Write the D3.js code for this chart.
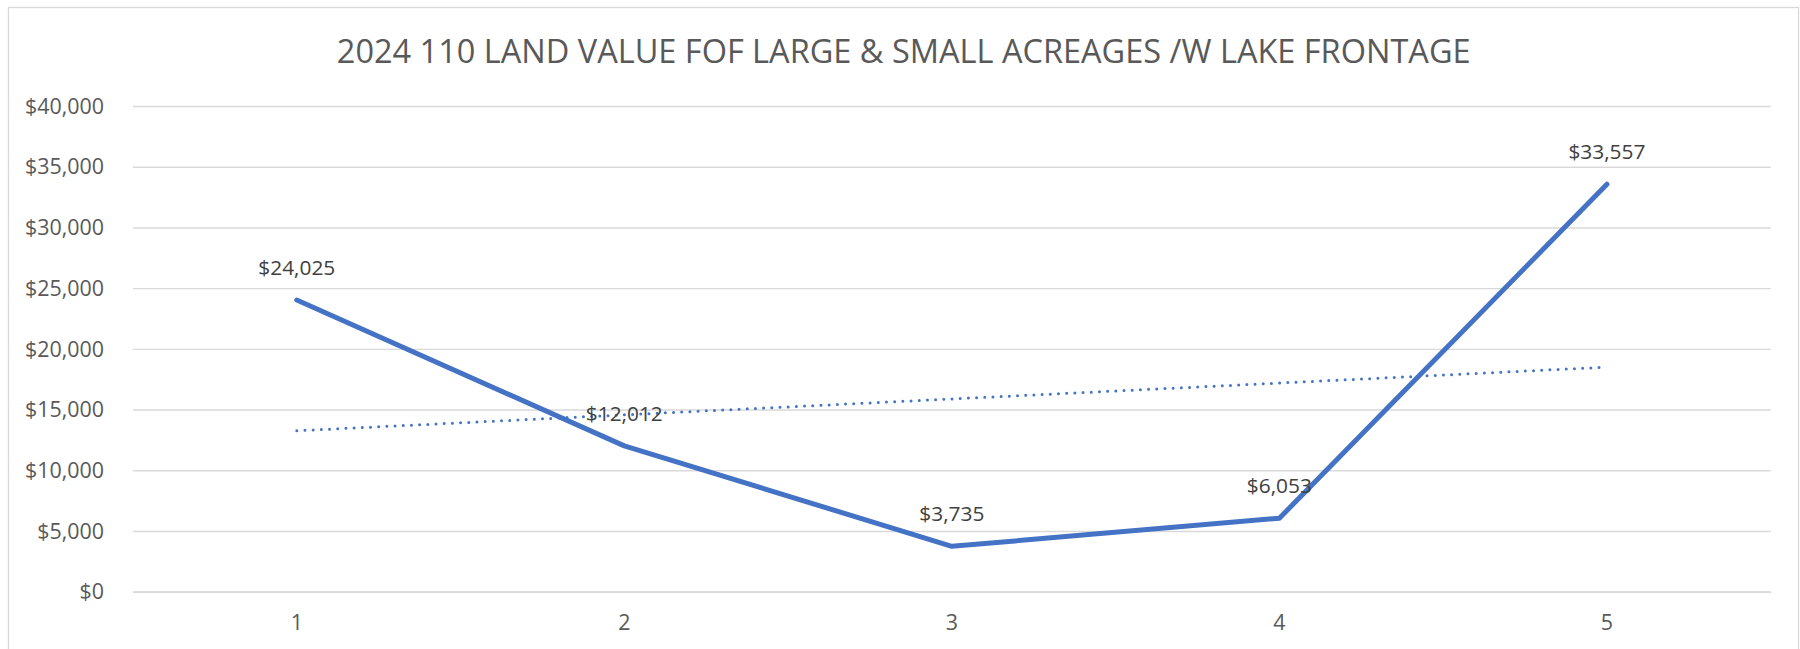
<!DOCTYPE html>
<html>
<head>
<meta charset="utf-8">
<script src="https://cdn.jsdelivr.net/npm/d3@7"></script>
<style>
  html, body { margin: 0; padding: 0; background: #ffffff; }
  svg { display: block; }
</style>
</head>
<body>
<svg id="chart" width="1800" height="649"></svg>
<script>
// ---- data ----
const title = "2024 110 LAND VALUE FOF LARGE & SMALL ACREAGES /W LAKE FRONTAGE";
const categories = ["1", "2", "3", "4", "5"];
const values = [24025, 12012, 3735, 6053, 33557];
// linear trendline (as drawn in the picture) at first and last category
const trendCategories = ["1", "5"];
const trendValues = [13255, 18497];
const yTicks = [0, 5000, 10000, 15000, 20000, 25000, 30000, 35000, 40000];

// ---- layout ----
const W = 1800, H = 649;
const plot = { left: 133, right: 1770.7, top: 106, bottom: 591.7 };
const FONT = "'Open Sans', 'Noto Sans', 'DejaVu Sans', sans-serif";
const BLUE = "#4472C4";

const svg = d3.select("#chart");
svg.append("rect").attr("width", W).attr("height", H).attr("fill", "#fff");
svg.append("rect")
  .attr("x", 8.5).attr("y", 7.5).attr("width", 1790).attr("height", 680)
  .attr("fill", "none").attr("stroke", "#d9d9d9").attr("stroke-width", 1.3);

// helper: font size fitting a sample string to a target width
function fitSize(sample, targetWidth) {
  const t = svg.append("text").attr("font-family", FONT).attr("font-size", 100).text(sample);
  const w = t.node().getComputedTextLength();
  t.remove();
  return 100 * targetWidth / w;
}
const titleSize = fitSize(title, 1134);
const tickSize = fitSize("$40,000", 79);
const labelSize = fitSize("$24,025", 77);

const x = d3.scaleBand().domain(categories).range([plot.left, plot.right]).padding(0);
const cx = c => x(c) + x.bandwidth() / 2;
const y = d3.scaleLinear().domain([0, 40000]).range([plot.bottom, plot.top]);
const fmt = v => "$" + d3.format(",")(v);

// gridlines + y axis labels
const yAxis = d3.axisLeft(y).tickValues(yTicks)
  .tickSize(-(plot.right - plot.left)).tickPadding(29).tickFormat(fmt);
const gy = svg.append("g").attr("transform", `translate(${plot.left},0)`).call(yAxis);
gy.select(".domain").remove();
gy.selectAll(".tick line").attr("stroke", "#d9d9d9").attr("stroke-width", 1.4);
gy.selectAll(".tick text")
  .attr("font-family", FONT).attr("font-size", tickSize).attr("fill", "#595959")
  .attr("dy", "0.34em");

// x axis
const xAxis = d3.axisBottom(x).tickSize(0).tickPadding(0);
const gx = svg.append("g").attr("transform", `translate(0,${plot.bottom})`).call(xAxis);
gx.select(".domain").attr("stroke", "#d9d9d9").attr("stroke-width", 1.7);
gx.selectAll(".tick text")
  .attr("font-family", FONT).attr("font-size", tickSize).attr("fill", "#595959")
  .attr("dy", null).attr("y", 38);

// main line
const pts = categories.map((c, i) => ({ c, v: values[i] }));
const line = d3.line().x(d => cx(d.c)).y(d => y(d.v));
svg.append("path").datum(pts)
  .attr("d", line).attr("fill", "none").attr("stroke", BLUE)
  .attr("stroke-width", 5).attr("stroke-linecap", "round").attr("stroke-linejoin", "round");

// trendline (dotted)
const tpts = trendCategories.map((c, i) => ({ c, v: trendValues[i] }));
svg.append("path").datum(tpts)
  .attr("d", line).attr("fill", "none").attr("stroke", BLUE)
  .attr("stroke-width", 3).attr("stroke-linecap", "round")
  .attr("stroke-dasharray", "0 8.2");

// data labels
svg.append("g").selectAll("text").data(pts).join("text")
  .attr("x", d => cx(d.c)).attr("y", d => y(d.v) - 25)
  .attr("text-anchor", "middle")
  .attr("font-family", FONT).attr("font-size", labelSize).attr("fill", "#404040")
  .text(d => fmt(d.v));

// title
svg.append("text")
  .attr("x", 903.7).attr("y", 63.3).attr("text-anchor", "middle")
  .attr("font-family", FONT).attr("font-size", titleSize).attr("fill", "#595959")
  .text(title);
</script>
</body>
</html>
